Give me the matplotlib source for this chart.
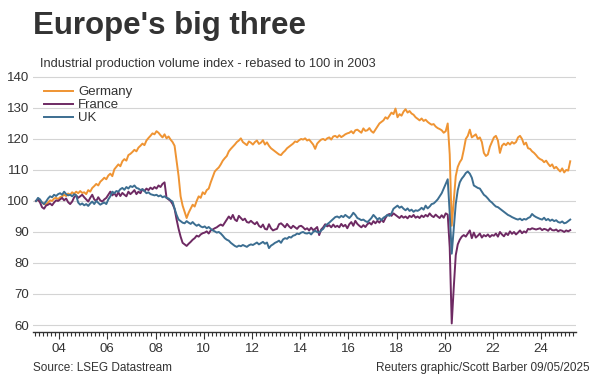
import matplotlib
matplotlib.use("Agg")
import matplotlib.pyplot as plt
import numpy as np
from matplotlib.ticker import FixedLocator, NullFormatter

plt.rcParams['font.family'] = ['Liberation Sans', 'DejaVu Sans']

# Monthly index values, Jan 2003 .. Mar 2025 (rebased 2003 = 100)
germany = [
    100.0, 100.5, 99.8, 99.5, 99.0, 98.8, 99.5, 100.2, 100.0, 100.8, 101.0, 100.6,   # 2003
    101.2, 101.5, 102.0, 101.6, 102.4, 102.0, 102.8, 102.3, 103.0, 102.5, 103.2, 102.6,  # 2004
    102.8, 102.2, 103.5, 103.0, 104.2, 104.8, 105.5, 105.0, 106.2, 106.8, 107.5, 107.0,  # 2005
    108.2, 108.8, 108.0, 110.2, 111.0, 111.8, 111.2, 112.8, 113.5, 113.0, 114.8, 115.2,  # 2006
    115.8, 116.5, 116.0, 117.2, 117.8, 118.5, 118.0, 119.5, 120.3, 121.0, 121.8, 121.5,  # 2007
    122.5, 122.0, 121.2, 120.5, 121.5, 120.2, 120.8, 119.8, 119.0, 117.8, 113.0, 108.0,  # 2008
    101.5, 98.5, 96.5, 94.5, 96.2, 97.5, 98.8, 98.2, 100.0, 101.5, 101.0, 102.8,        # 2009
    102.2, 103.5, 104.0, 106.0, 107.8, 109.5, 110.2, 110.8, 111.8, 113.0, 113.8, 114.5,  # 2010
    116.0, 116.8, 117.5, 118.2, 119.0, 119.5, 120.2, 119.0, 118.5, 118.0, 119.2, 118.8,  # 2011
    118.2, 119.0, 119.5, 118.4, 118.8, 119.6, 118.2, 118.9, 117.8, 117.0, 116.5, 116.0,  # 2012
    115.5, 115.0, 114.8, 115.6, 116.2, 117.0, 117.5, 118.0, 118.5, 119.2, 119.0, 119.6,  # 2013
    120.0, 119.8, 120.2, 119.5, 119.8, 119.0, 118.2, 116.8, 118.5, 119.2, 119.8, 120.0,  # 2014
    119.6, 120.2, 120.5, 119.8, 120.8, 121.0, 120.5, 121.2, 120.6, 121.0, 121.5, 121.8,  # 2015
    122.0, 122.5, 121.8, 122.8, 123.0, 122.5, 122.0, 123.4, 122.6, 122.8, 123.5, 122.5,  # 2016
    122.0, 123.0, 124.0, 125.0, 125.5, 126.0, 127.0, 126.5, 127.5, 128.5, 128.0, 129.8,  # 2017
    127.0, 128.0, 127.5, 128.8, 129.6, 128.5, 129.0, 128.2, 127.8, 127.0, 126.5, 126.0,  # 2018
    126.6, 125.8, 126.2, 125.5, 125.0, 124.6, 124.8, 124.0, 123.5, 123.2, 122.8, 122.0,  # 2019
    122.5, 125.0, 115.0, 92.0, 100.0, 108.0, 111.0, 112.5, 113.5, 116.5, 120.0, 121.0,   # 2020
    123.0, 120.5, 121.0, 121.5, 120.0, 120.5, 119.0, 115.5, 114.5, 115.0, 117.5, 119.0,  # 2021
    120.5, 121.0, 119.5, 115.5, 117.8, 118.5, 118.0, 118.8, 118.2, 119.0, 118.5, 119.0,  # 2022
    120.5, 121.0, 120.0, 118.2, 118.8, 117.0, 116.8, 116.0, 115.5, 114.8, 114.0, 113.5,  # 2023
    113.2, 112.5, 113.0, 112.0, 111.2, 111.8, 110.5, 111.0, 110.2, 109.5, 110.5, 109.2,  # 2024
    110.0, 109.8, 112.8,                                                                 # 2025
]

france = [
    100.0, 100.5, 99.5, 98.0, 97.5, 98.5, 98.8, 99.2, 98.6, 99.5, 100.2, 100.0,
    100.5, 101.0, 100.2, 100.8, 99.6, 99.0, 99.8, 101.2, 101.8, 101.0, 101.5, 102.0,
    101.2, 100.5, 99.8, 101.0, 102.0, 100.5, 100.0, 101.2, 100.2, 99.8, 100.5, 101.0,
    102.0, 103.0, 101.8, 102.5, 101.5, 102.8, 101.6, 102.6, 102.0, 101.5, 103.0, 102.2,
    102.8, 103.5, 102.2, 103.0, 102.5, 103.8, 103.2, 104.0, 103.5, 104.3, 103.8, 104.5,
    104.0, 105.0, 104.5, 105.5, 106.0, 101.0, 100.5, 100.0, 99.0, 97.5, 94.0, 91.0,
    88.5, 86.5, 86.0, 85.5, 86.2, 86.8, 87.5, 88.0, 88.8, 88.5, 89.2, 89.6,
    89.8, 90.2, 89.5, 90.5, 90.8, 91.2, 91.5, 92.0, 92.4, 92.0, 93.0, 94.0,
    95.0, 94.2, 95.5, 94.0, 93.5, 95.2, 94.5, 93.8, 94.3, 93.2, 93.0, 93.6,
    93.0, 92.5, 93.2, 92.0, 91.5, 92.4, 91.0, 90.8, 92.5, 91.2, 90.5, 90.8,
    91.0, 92.5, 92.8, 92.2, 91.5, 92.6, 91.8, 91.2, 92.0, 91.5, 91.0, 91.8,
    92.0, 91.5, 90.8, 91.2, 90.5, 91.4, 90.6, 91.0, 91.6, 89.0, 90.8, 91.5,
    92.5, 91.8, 92.2, 91.5, 92.4, 91.6, 92.0, 91.5, 92.6, 91.8, 92.3, 91.2,
    92.5, 93.2, 92.0, 93.6, 92.6, 92.0, 91.5, 92.2, 91.6, 92.5, 93.0, 92.4,
    93.5, 92.8, 93.6, 93.0, 94.0, 93.2, 94.5, 95.5, 95.8, 95.2, 96.0, 95.5,
    95.0, 94.5, 95.2, 94.6, 95.0, 94.4, 95.2, 94.8, 95.5, 94.6, 95.0, 94.5,
    95.3, 94.8, 95.5, 95.0, 96.0, 95.2, 94.8, 95.6, 95.0, 94.5, 95.4, 94.6,
    96.0, 95.6, 85.0, 60.5, 72.0, 82.5, 86.0, 87.5, 88.5, 89.0, 88.5, 89.5,
    90.5, 88.0, 89.8, 88.2, 88.8, 89.5, 88.2, 89.0, 88.6, 89.2, 88.4, 89.0,
    88.8, 89.5, 88.5, 90.0, 89.2, 88.6, 89.6, 89.0, 90.2, 89.4, 90.0, 89.2,
    89.8, 90.5, 89.6, 90.2, 89.8, 91.0, 90.8, 91.2, 91.0, 90.8, 91.0, 91.2,
    90.6, 91.0, 90.8, 90.4, 91.2, 90.6, 90.5, 90.8, 90.2, 90.6, 90.4, 90.0,
    90.5, 90.2, 90.6,
]

uk = [
    100.0, 101.0, 100.5, 99.5, 99.0, 99.8, 100.8, 101.5, 101.2, 102.0, 101.6, 102.2,
    102.5, 102.0, 103.0, 102.2, 101.8, 102.0, 101.5, 102.2, 101.8, 99.5, 98.8, 99.2,
    98.6, 99.0, 98.4, 99.2, 99.8, 99.0, 100.0, 99.4, 98.8, 99.2, 99.5, 99.0,
    100.5, 101.5, 103.0, 102.5, 103.2, 103.0, 103.8, 104.2, 103.6, 104.5, 104.0, 104.8,
    104.5, 105.0, 104.2, 104.0, 103.5, 103.8, 103.2, 102.5, 102.8, 102.2, 102.0, 101.8,
    102.0, 101.5, 101.8, 101.2, 101.5, 101.0, 100.8, 100.2, 99.8, 97.5, 95.5, 94.0,
    93.5, 93.0, 92.8, 93.5, 93.0, 92.6, 93.2, 92.5, 92.0, 92.4, 91.8, 91.5,
    91.8, 91.2, 91.6, 91.0, 90.5, 90.2, 89.8, 90.0, 89.5, 88.8, 88.0, 87.5,
    87.2, 86.5, 86.0, 85.5, 85.2, 85.6, 85.4, 85.8, 85.5, 85.2, 85.7, 86.0,
    85.8, 86.2, 86.6, 86.0, 86.4, 86.8, 86.2, 86.6, 84.8, 85.6, 86.0, 86.5,
    86.8, 87.2, 86.5, 87.6, 88.0, 87.8, 88.4, 88.2, 88.8, 89.0, 89.5, 89.3,
    89.8, 90.0, 89.6, 89.5, 89.8, 89.2, 90.0, 90.4, 90.0, 89.8, 90.5, 91.0,
    92.0, 92.5, 93.0, 93.6, 94.2, 94.8, 95.0, 94.6, 95.2, 94.8, 95.5, 95.0,
    94.5, 95.2, 96.2, 95.5, 94.5, 94.2, 93.8, 94.0, 93.5, 93.2, 93.8, 94.5,
    95.5, 94.8, 94.0, 94.5, 93.8, 94.6, 95.0, 95.5, 95.2, 96.0, 97.5, 98.0,
    98.5, 97.8, 98.2, 97.5, 97.0, 97.6, 96.8, 97.2, 96.5, 97.0, 96.8, 97.2,
    97.8, 97.2, 98.5, 97.6, 98.2, 99.0, 99.2, 99.8, 100.5, 101.5, 102.5, 104.0,
    105.5, 107.0, 96.0, 83.0, 91.0, 99.0, 103.5, 106.0, 107.2, 108.0, 109.0, 109.5,
    108.8, 107.5, 105.0, 104.6, 104.2, 104.0, 103.0, 102.0, 101.5, 100.8, 100.0, 99.5,
    98.8, 98.2, 98.0, 97.5, 97.0, 96.5, 96.0, 95.5, 95.2, 94.8, 94.5, 94.2,
    94.0, 94.3, 93.8, 94.2, 94.0, 94.5, 94.8, 95.8, 95.2, 94.8, 94.5, 94.2,
    94.0, 94.6, 93.8, 94.2, 93.6, 94.0, 93.5, 93.8, 93.2, 93.0, 93.4, 92.8,
    93.0, 93.5, 94.0,
]

start_year = 2003
series_names = ["Germany", "France", "UK"]
series_colors = ["#EF9433", "#6E2A63", "#3C6E91"]
y_ticks = [60, 70, 80, 90, 100, 110, 120, 130, 140]
x_tick_years = [2004, 2006, 2008, 2010, 2012, 2014, 2016, 2018, 2020, 2022, 2024]
x_tick_labels = ["04", "06", "08", "10", "12", "14", "16", "18", "20", "22", "24"]

title = "Europe's big three"
subtitle = "Industrial production volume index - rebased to 100 in 2003"
source = "Source: LSEG Datastream"
credit = "Reuters graphic/Scott Barber 09/05/2025"

n = len(germany)
t = start_year + (np.arange(n) + 0.5) / 12.0

fig = plt.figure(figsize=(6.0, 3.76), dpi=100)
ax = fig.add_axes([0.055, 0.117, 0.905, 0.6825])

for vals, name, col in zip([germany, france, uk], series_names, series_colors):
    ax.plot(t[:len(vals)], vals, color=col, lw=1.4, label=name, solid_joinstyle='round')

ax.set_xlim(2002.917, 2025.448)
ax.set_ylim(57.74, 140.5)

ax.set_yticks(y_ticks)
ax.set_yticklabels([str(v) for v in y_ticks])
ax.yaxis.grid(True, color='#d4d4d4', lw=0.8)
ax.set_axisbelow(True)
ax.tick_params(axis='y', length=0, pad=3, labelsize=9.5, labelcolor='#333333')

ax.set_xticks(x_tick_years)
ax.set_xticklabels(x_tick_labels)
minor = [start_year + k / 6.0 for k in range(0, 135)]
ax.xaxis.set_minor_locator(FixedLocator(minor))
ax.xaxis.set_minor_formatter(NullFormatter())
ax.tick_params(axis='x', which='major', length=5, width=0.8, color='#333333',
               pad=3, labelsize=9.5, labelcolor='#333333')
ax.tick_params(axis='x', which='minor', length=3, width=0.8, color='#333333')

for s in ['left', 'right', 'top']:
    ax.spines[s].set_visible(False)
ax.spines['bottom'].set_color('#333333')
ax.spines['bottom'].set_linewidth(1.0)

leg = ax.legend(loc='upper left', bbox_to_anchor=(0.0733, 0.771),
                bbox_transform=fig.transFigure, frameon=False, fontsize=9.5,
                handlelength=2.2, handletextpad=0.4, labelspacing=0.05,
                borderpad=0, borderaxespad=0)
for txt in leg.get_texts():
    txt.set_color('#333333')

fig.text(0.055, 0.9096, title, fontsize=22.5, fontweight='bold', color='#333333', va='baseline')
fig.text(0.0667, 0.8218, subtitle, fontsize=9.2, color='#333333', va='baseline')
fig.text(0.055, 0.0133, source, fontsize=8.5, color='#333333', va='baseline')
fig.text(0.983, 0.0133, credit, fontsize=8.5, color='#333333', va='baseline', ha='right')

fig.savefig("out.png", dpi=100)
